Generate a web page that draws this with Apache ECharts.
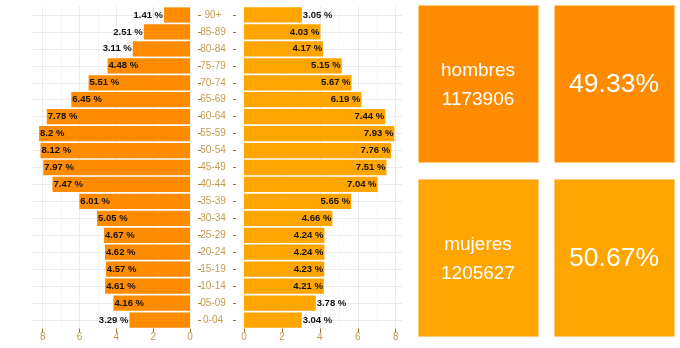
<!DOCTYPE html>
<html>
<head>
<meta charset="utf-8">
<script src="https://cdn.jsdelivr.net/npm/echarts@6/dist/echarts.min.js"></script>
<style>
html,body{margin:0;padding:0;background:#fff;}
#chart{width:680px;height:348px;}
</style>
</head>
<body>
<div id="chart"></div>
<script>
var ageGroups = ['90+','85-89','80-84','75-79','70-74','65-69','60-64','55-59','50-54','45-49','40-44','35-39','30-34','25-29','20-24','15-19','10-14','05-09','0-04'];
var hombres = [1.41,2.51,3.11,4.48,5.51,6.45,7.78,8.2,8.12,7.97,7.47,6.01,5.05,4.67,4.62,4.57,4.61,4.16,3.29];
var mujeres = [3.05,4.03,4.17,5.15,5.67,6.19,7.44,7.93,7.76,7.51,7.04,5.65,4.66,4.24,4.24,4.23,4.21,3.78,3.04];
var xTicks = [0,2,4,6,8];
var sexNames = ['hombres','mujeres'];
var sexTotals = ['1173906','1205627'];
var sexShares = ['49.33%','50.67%'];

var FONT = 'Liberation Sans, Arial, sans-serif';
var TAN = '#C49A50';
var TICK = '#9C7424';
var C_H = '#FF8C00';
var C_M = '#FFA500';
var GRID = '#EBEBEB';

function labelOpts(side, v){
  var outside = v < 4;
  var pos;
  if (side === 'L') pos = outside ? 'left' : 'insideLeft';
  else pos = outside ? 'right' : 'insideRight';
  return {show:true, position:pos, distance:1};
}

function xAxisCfg(idx, inverse, max){
  return {
    type:'value', gridIndex:idx, inverse:inverse, min:0, max:max, interval:2,
    axisLine:{show:false},
    axisTick:{show:true, length:4, lineStyle:{color:TICK, width:1}},
    axisLabel:{color:TAN, fontSize:10, fontFamily:FONT, margin:4, showMaxLabel:false,
      formatter:function(v){ return xTicks.indexOf(v) >= 0 ? String(v) : ''; }},
    splitLine:{show:true, showMaxLine:false, lineStyle:{color:GRID, width:1}},
    minorTick:{show:false, splitNumber:2},
    minorSplitLine:{show:true, lineStyle:{color:'#F5F5F5', width:1}}
  };
}

function tickAxis(pos){
  return {type:'category', gridIndex:2, data:ageGroups, inverse:true, position:pos,
    axisLine:{show:false},
    axisTick:{show:true, length:3, alignWithLabel:true, lineStyle:{color:TICK, width:1}},
    axisLabel:{show:false}, splitLine:{show:false}};
}

var option = {
  animation:false,
  backgroundColor:'#fff',
  grid:[
    {left:31.5, right:490, top:6.5, height:322},
    {left:244, right:278, top:6.5, height:322},
    {left:201, right:447, top:6.5, height:322}
  ],
  xAxis:[ xAxisCfg(0, true, 8.61), xAxisCfg(1, false, 8.33),
    {type:'value', gridIndex:2, show:false, min:0, max:1} ],
  yAxis:[
    {type:'category', gridIndex:0, data:ageGroups, inverse:true, position:'right',
      axisLine:{show:false}, axisTick:{show:false}, axisLabel:{show:false},
      splitLine:{show:true, alignWithLabel:true, lineStyle:{color:GRID, width:1}}},
    {type:'category', gridIndex:1, data:ageGroups, inverse:true, position:'left', offset:8,
      axisLine:{show:false}, axisTick:{show:false},
      axisLabel:{show:true, color:TAN, fontSize:10, fontFamily:FONT, margin:23, align:'center'},
      splitLine:{show:true, alignWithLabel:true, lineStyle:{color:GRID, width:1}}},
    tickAxis('left'),
    tickAxis('right')
  ],
  series:[
    {type:'bar', name:'hombres', xAxisIndex:0, yAxisIndex:0, barWidth:'90%',
      itemStyle:{color:C_H},
      label:{show:true, color:'#111', fontWeight:'bold', fontSize:9.5, fontFamily:FONT,
        formatter:function(p){ return p.value + ' %'; }},
      data:hombres.map(function(v){ return {value:v, label:labelOpts('L', v)}; })},
    {type:'bar', name:'mujeres', xAxisIndex:1, yAxisIndex:1, barWidth:'90%',
      itemStyle:{color:C_M},
      label:{show:true, color:'#111', fontWeight:'bold', fontSize:9.5, fontFamily:FONT,
        formatter:function(p){ return p.value + ' %'; }},
      data:mujeres.map(function(v){ return {value:v, label:labelOpts('R', v)}; })}
  ],
  graphic:[]
};

var boxColors = [C_H, C_M];
var boxTops = [5, 179];
for (var i = 0; i < 2; i++) {
  var bt = boxTops[i];
  option.graphic.push({type:'rect', left:418, top:bt, shape:{width:120, height:157},
    style:{fill:boxColors[i], stroke:'#FFCB80', lineWidth:1}});
  option.graphic.push({type:'rect', left:554, top:bt, shape:{width:120, height:157},
    style:{fill:boxColors[i], stroke:'#FFCB80', lineWidth:1}});
  option.graphic.push({type:'text', x:478, y:bt + 65.5,
    style:{text:sexNames[i], fill:'#fff', font:'19px ' + FONT, textAlign:'center', textVerticalAlign:'middle'}});
  option.graphic.push({type:'text', x:478, y:bt + 94.5,
    style:{text:sexTotals[i], fill:'#fff', font:'19px ' + FONT, textAlign:'center', textVerticalAlign:'middle'}});
  option.graphic.push({type:'text', x:614, y:bt + 80,
    style:{text:sexShares[i], fill:'#fff', font:'26.5px ' + FONT, textAlign:'center', textVerticalAlign:'middle'}});
}

var chart = echarts.init(document.getElementById('chart'), null, {renderer:'canvas'});
chart.setOption(option);
</script>
</body>
</html>
